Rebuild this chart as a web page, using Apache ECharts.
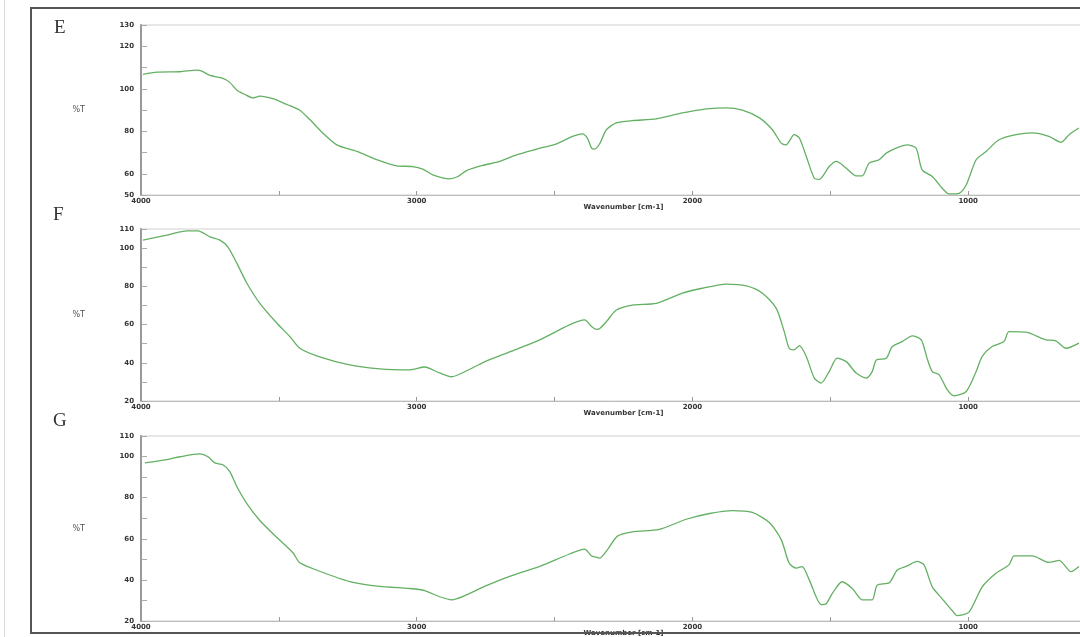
<!DOCTYPE html>
<html>
<head>
<meta charset="utf-8">
<script src="https://cdn.jsdelivr.net/npm/echarts@6/dist/echarts.min.js"></script>
<style>
  html, body { margin: 0; padding: 0; background: #fff; }
  #chart { width: 1080px; height: 637px; }
</style>
</head>
<body>
<div id="chart"></div>
<script>
// Panel letters
const panelNames = ['E', 'F', 'G'];

// Spectrum E: wavenumber (cm-1) and %T
const eWavenumber = [3993,3942,3859,3797,3779,3750,3703,3678,3652,3623,3594,3569,3522,3471,3424,3388,3341,3290,3217,3145,3073,3015,2978,2942,2880,2851,2819,2761,2699,2638,2565,2493,2435,2399,2381,2366,2355,2337,2312,2276,2218,2131,2036,1949,1877,1819,1757,1710,1678,1660,1631,1612,1587,1558,1540,1504,1478,1442,1406,1384,1359,1323,1297,1261,1221,1189,1167,1130,1094,1069,1033,1007,971,935,888,826,768,707,663,634,598];
const eTransmittance = [106.8,107.8,108,108.8,108.3,106.3,104.9,103,99.3,97.3,95.7,96.5,95.3,92.6,89.9,85.5,79.2,73.6,70.5,66.6,63.7,63.4,62.2,59.5,57.6,58.7,61.5,63.9,65.8,68.9,71.6,74.1,77.6,78.8,76.8,72.1,71.6,74,80.7,83.9,85,85.8,88.6,90.5,91,89.9,86.3,80.7,74.4,73.6,78.4,76.8,68.1,57.9,57.4,63.4,65.8,62.6,59,59,65,66.6,69.7,72.1,73.6,72.1,61.8,58.7,53.2,50.5,50.8,54.7,66.6,70.5,76,78.4,79.2,77.6,74.8,78.4,81.5];

// Spectrum F
const fWavenumber = [3993,3906,3833,3793,3750,3714,3685,3652,3616,3569,3507,3460,3424,3352,3243,3134,3025,2971,2917,2873,2826,2754,2663,2554,2446,2391,2366,2348,2337,2312,2276,2218,2131,2036,1964,1877,1804,1746,1696,1667,1649,1631,1612,1587,1558,1533,1504,1475,1442,1406,1370,1348,1333,1297,1275,1239,1203,1170,1149,1130,1105,1076,1051,1007,971,949,913,870,852,790,718,682,645,598];
const fTransmittance = [104.2,106.8,109,109,105.9,104.2,100.7,92,81.6,71.1,60.7,53.7,47.6,43.1,38.9,36.8,36.3,37.8,34.7,32.7,35.3,40.5,45.7,52,59.8,62.4,59,57.5,57.8,61.5,67.6,70.2,71.1,76.4,79,81.2,80.2,76.4,68.5,56.3,47.6,46.8,49,43.3,32,29.4,35.4,42.4,40.6,34.6,32,35.4,41.5,42.4,48.5,51.1,54.1,52,42.4,35.4,33.7,25.9,22.7,25,35.4,43.3,48.5,51.1,56.3,56,52,51.5,47.6,50.3];

// Spectrum G
const gWavenumber = [3986,3906,3859,3786,3757,3732,3703,3678,3652,3616,3569,3507,3449,3424,3352,3243,3134,3025,2971,2917,2873,2826,2754,2663,2554,2446,2391,2366,2348,2337,2308,2272,2218,2120,2022,1938,1855,1783,1721,1678,1649,1623,1602,1576,1533,1515,1493,1457,1420,1384,1348,1330,1286,1257,1221,1185,1160,1130,1094,1058,1040,997,949,899,852,833,768,707,670,627,598];
const gTransmittance = [96.9,98.5,99.9,101.3,99.9,96.9,96,92.7,85.3,77.1,68.9,60.6,53.2,48.3,44.2,39.2,36.8,35.8,34.8,31.8,30.3,32.3,36.8,41.7,46.6,52.6,55,51.6,51.1,50.6,54.7,61.3,63.4,64.6,69.5,72.3,73.7,72.8,67.9,59.6,48.1,45.7,46.5,39.9,28,28.4,33.3,39.1,35.8,30.3,30.3,37.4,38.6,44.8,46.8,49,47.3,36.6,30.8,25.1,22.6,24.3,36.6,43.2,47.3,51.7,51.7,48.5,49.5,44,46.5];

// Axis ranges and labelled ticks
const xRange = [500, 4000];
const xLabelled = [4000, 3000, 2000, 1000];
const yRanges = [[50, 130], [20, 110], [20, 110]];
const yLabelled = [[50, 60, 80, 100, 120, 130], [20, 40, 60, 80, 100, 110], [20, 40, 60, 80, 100, 110]];

const xTitle = 'Wavenumber [cm-1]';
const yTitle = '%T';

const spectra = [
  [eWavenumber, eTransmittance],
  [fWavenumber, fTransmittance],
  [gWavenumber, gTransmittance]
];

// The plot frames run past the right edge of the page
const gridBoxes = [
  { left: 141, top: 25, width: 965, height: 170 },
  { left: 141, top: 229, width: 965, height: 172 },
  { left: 141, top: 436, width: 965, height: 185 }
];
const letterPos = [[54, 19], [53, 206], [53, 412]];

const labelFont = { fontSize: 7, color: '#333', fontFamily: 'DejaVu Sans', fontWeight: 'bold' };

const option = {
  backgroundColor: '#fff',
  animation: false,
  grid: gridBoxes.map(b => Object.assign({
    show: true, borderColor: '#d0d0d0', borderWidth: 1, backgroundColor: '#fff',
    containLabel: false, outerBoundsMode: 'none'
  }, b)),
  xAxis: gridBoxes.map((b, i) => ({
    type: 'value',
    gridIndex: i,
    inverse: true,
    min: xRange[0],
    max: xRange[1],
    interval: 500,
    axisLine: { show: true, lineStyle: { color: '#bbb', width: 1 } },
    axisTick: { show: true, inside: true, length: 4, lineStyle: { color: '#999' } },
    splitLine: { show: false },
    axisLabel: Object.assign({
      margin: 3,
      formatter: v => xLabelled.includes(v) ? String(v) : ''
    }, labelFont),
    name: xTitle,
    nameLocation: 'middle',
    nameGap: 9,
    nameMoveOverlap: false,
    nameTextStyle: { fontSize: 7, color: '#333', fontFamily: 'DejaVu Sans', fontWeight: 'bold' }
  })),
  yAxis: gridBoxes.map((b, i) => ({
    type: 'value',
    gridIndex: i,
    min: yRanges[i][0],
    max: yRanges[i][1],
    interval: 10,
    axisLine: { show: true, lineStyle: { color: '#999', width: 2 } },
    axisTick: { show: true, inside: true, length: 6, lineStyle: { color: '#aaa' } },
    splitLine: { show: false },
    axisLabel: Object.assign({
      margin: 7,
      formatter: v => yLabelled[i].includes(v) ? String(v) : ''
    }, labelFont),
    name: yTitle,
    nameLocation: 'middle',
    nameRotate: 0,
    nameGap: 56,
    nameMoveOverlap: false,
    nameTextStyle: { fontSize: 8, color: '#555', fontFamily: 'DejaVu Sans' }
  })),
  series: spectra.map((s, i) => ({
    type: 'line',
    xAxisIndex: i,
    yAxisIndex: i,
    data: s[0].map((w, k) => [w, s[1][k]]),
    showSymbol: false,
    symbol: 'none',
    smooth: 0.25,
    clip: true,
    lineStyle: { color: '#63b063', width: 1.3 }
  })),
  graphic: [
    { type: 'line', shape: { x1: 4.5, y1: 0, x2: 4.5, y2: 637 }, style: { stroke: '#d8d8d8', lineWidth: 1 } },
    { type: 'rect', shape: { x: 31, y: 8, width: 1100, height: 625 }, style: { fill: null, stroke: '#555', lineWidth: 2 }, z: 100 }
  ].concat(panelNames.map((n, i) => ({
    type: 'text',
    left: letterPos[i][0],
    top: letterPos[i][1],
    style: { text: n, fontSize: 19, fontFamily: 'Liberation Serif', fill: '#333' },
    z: 100
  })))
};

const chart = echarts.init(document.getElementById('chart'));
chart.setOption(option);
</script>
</body>
</html>
